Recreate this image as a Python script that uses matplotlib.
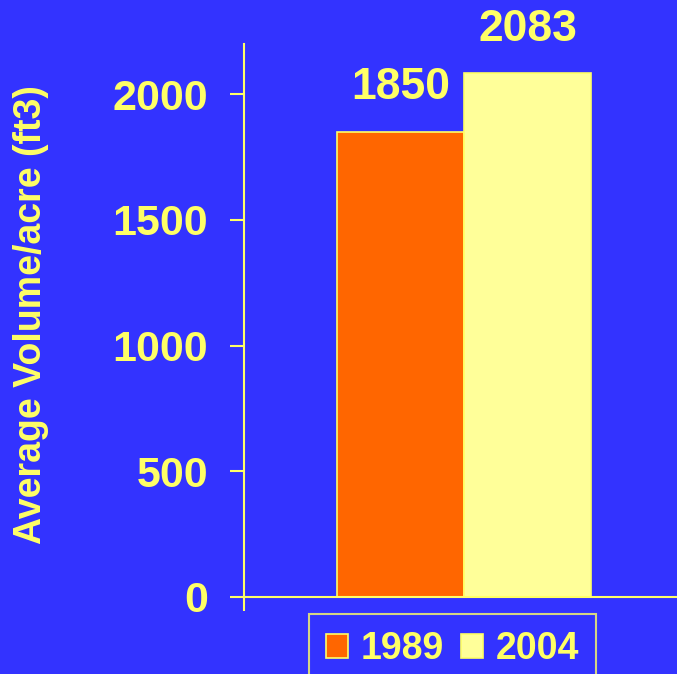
import matplotlib
matplotlib.use("Agg")
import matplotlib.pyplot as plt
from matplotlib.patches import Patch

# data
years = ["1989", "2004"]
volumes = [1850, 2083]
yticks = [0, 500, 1000, 1500, 2000]

# colors
BG = "#3333FF"
TXT = "#FFFF66"
BAR_COLORS = ["#FF6600", "#FFFF99"]

plt.rcParams["font.family"] = ["Liberation Sans", "DejaVu Sans"]
plt.rcParams["font.weight"] = "bold"

fig = plt.figure(figsize=(6.77, 6.74), dpi=100, facecolor=BG)
ax = fig.add_axes([244 / 677, 1 - 597 / 674, 433 / 677, (597 - 44) / 674])
ax.set_facecolor(BG)

# bars
xpos = [0, 1]
bars = ax.bar(xpos, volumes, width=1.0, align="edge",
              color=BAR_COLORS, edgecolor=TXT, linewidth=1.2)
for b, v in zip(bars, volumes):
    ax.annotate(str(v), (b.get_x() + b.get_width() / 2, v),
                xytext=(0, 17), textcoords="offset points",
                ha="center", va="bottom", color=TXT,
                fontsize=32, fontweight="bold")

# axes
ax.set_xlim(-0.732, 2.677)
ax.set_ylim(0, 2200)
ax.set_yticks(yticks)
ax.set_xticks([-0.732])
ax.set_xticklabels([""])
for s in ["top", "right"]:
    ax.spines[s].set_visible(False)
for s in ["left", "bottom"]:
    ax.spines[s].set_color(TXT)
    ax.spines[s].set_linewidth(1.5)
ax.tick_params(axis="y", colors=TXT, length=10, width=1.5,
               labelsize=31, pad=16)
ax.tick_params(axis="x", colors=TXT, length=10, width=1.5)
for lbl in ax.get_yticklabels():
    lbl.set_fontweight("bold")

# y label placed in figure coords
fig.text(31 / 677, 1 - 315 / 674, "Average Volume/acre (ft3)", rotation=90,
         color=TXT, fontsize=27, fontweight="bold", ha="center", va="center")

# legend
handles = [Patch(facecolor=c, edgecolor=TXT, linewidth=1.2) for c in BAR_COLORS]
leg = fig.legend(handles, years, loc="upper left",
                 bbox_to_anchor=(309 / 677, 1 - 614 / 674), ncol=2,
                 frameon=True, fancybox=False,
                 prop={"weight": "bold", "size": 27},
                 handlelength=0.6, handleheight=0.6, handletextpad=0.33,
                 columnspacing=0.45, borderpad=0.45, borderaxespad=0)
leg.get_frame().set_facecolor(BG)
leg.get_frame().set_edgecolor(TXT)
leg.get_frame().set_linewidth(1.5)
for t in leg.get_texts():
    t.set_color(TXT)

fig.savefig("out.png", dpi=100, facecolor=BG)
